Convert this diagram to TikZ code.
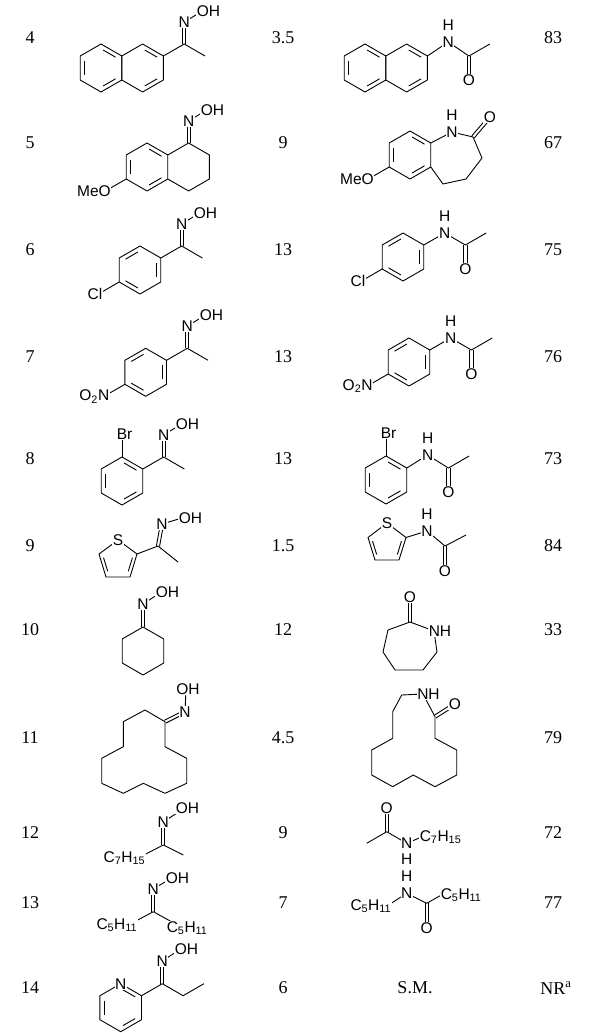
\documentclass[tikz,border=0pt]{standalone}
\usepackage{fontspec}
\setmainfont{Liberation Serif}
\newfontfamily\chem{Liberation Sans}
\usetikzlibrary{calc}
\tikzset{
  bond/.style={line width=0.9pt,line join=round},
  lab/.style={font=\chem\fontsize{15.5}{15.5}\selectfont,fill=white,inner sep=0.6pt},
  num/.style={font=\fontsize{18}{18}\selectfont,inner sep=0pt}
}
\newcommand\hexring[1]{\draw[bond] ($#1+(30:24)$) -- ($#1+(90:24)$) -- ($#1+(150:24)$) -- ($#1+(210:24)$) -- ($#1+(270:24)$) -- ($#1+(330:24)$) -- cycle;}
\newcommand\hdb[3]{\draw[bond,shorten <=2.5pt,shorten >=2.5pt] ($#1+(-#2:19.2)$) -- ($#1+(-#3:19.2)$);}
\newcommand\pdb[3]{\draw[bond,shorten <=2.5pt,shorten >=2.5pt] ($#1!0.2!#3$) -- ($#2!0.2!#3$);}
\newcommand\dbond[2]{\draw[bond] ($#1!1.6pt!90:#2$) -- ($#2!1.6pt!-90:#1$); \draw[bond] ($#1!1.6pt!-90:#2$) -- ($#2!1.6pt!90:#1$);}
\begin{document}
\begin{tikzpicture}[x=1pt,y=-1pt]
\useasboundingbox (0,0) rectangle (600,1033);
% ---------- numbers ----------
\foreach \r/\y/\t/\yy in {4/38/3.5/83, 5/143/9/67, 6/250/13/75, 7/357/13/76, 8/459/13/73, 9/546/1.5/84, 10/630/12/33, 11/738/4.5/79, 12/833/9/72, 13/903/7/77}{
  \node[num] (r\r) at (30,\y) {\r};
  \node[num] (t\r) at (283,\y) {\t};
  \node[num] (y\r) at (553,\y) {\yy};
}
\node[num] (r14) at (30,988) {14};
\node[num] (t14) at (283,988) {6};
\node[num] (sm) at (415,988) {S.M.};
\node[num] (y14) at (556,988) {NR\textsuperscript{a}};
% ---------- row 4 ----------
\hexring{(101,68)} \hexring{(142.6,68)}
\hdb{(101,68)}{150}{210}\hdb{(101,68)}{270}{330}\hdb{(101,68)}{30}{90}
\hdb{(142.6,68)}{30}{90}\hdb{(142.6,68)}{270}{330}
\draw[bond] (163.4,56) -- (184.2,44) -- (205,56);
\dbond{(184.2,44)}{(184.2,22)}
\draw[bond] (184.2,22) -- (201,12);
\node[lab] (a4n) at (184.2,22) {N};
\node[lab,anchor=west] (a4o) at (196,11) {OH};
\hexring{(365,68)} \hexring{(406.6,68)}
\hdb{(365,68)}{150}{210}\hdb{(365,68)}{270}{330}\hdb{(365,68)}{30}{90}
\hdb{(406.6,68)}{30}{90}\hdb{(406.6,68)}{270}{330}
\draw[bond] (427.4,56) -- (448.2,42) -- (469,56) -- (489.8,44);
\dbond{(469,56)}{(469,80)}
\node[lab] (p4n) at (448.2,42) {N};
\node[lab] (p4h) at (448.2,25) {H};
\node[lab] (p4o) at (469,80) {O};
% ---------- row 5 ----------
\hexring{(147,167)}
\hdb{(147,167)}{150}{210}\hdb{(147,167)}{270}{330}\hdb{(147,167)}{30}{90}
\draw[bond] (167.8,155) -- (188.6,143) -- (209.4,155) -- (209.4,179) -- (188.6,191) -- (167.8,179);
\dbond{(188.6,143)}{(188.6,121)}
\draw[bond] (188.6,121) -- (205,111);
\node[lab] (a5n) at (188.6,121) {N};
\node[lab,anchor=west] (a5o) at (200,110) {OH};
\draw[bond] (126.2,179) -- (105.4,191);
\node[lab,anchor=east] (a5m) at (111.5,191) {MeO};
\hexring{(410,155)}
\hdb{(410,155)}{150}{210}\hdb{(410,155)}{270}{330}\hdb{(410,155)}{30}{90}
\draw[bond] (430.8,143) -- (452,132) -- (473,137) -- (482,158) -- (466,179) -- (443,184) -- (430.8,167);
\dbond{(473,137)}{(490,117)}
\node[lab] (p5n) at (452,132) {N};
\node[lab] (p5h) at (452,115) {H};
\node[lab] (p5o) at (490,117) {O};
\draw[bond] (389.2,167) -- (368.4,179);
\node[lab,anchor=east] (p5m) at (374.5,179) {MeO};
% ---------- row 6 ----------
\hexring{(140,270)}
\hdb{(140,270)}{90}{150}\hdb{(140,270)}{210}{270}\hdb{(140,270)}{330}{30}
\draw[bond] (160.8,258) -- (181.6,246) -- (202.4,258);
\dbond{(181.6,246)}{(181.6,224)}
\draw[bond] (181.6,224) -- (198,214);
\node[lab] (a6n) at (181.6,224) {N};
\node[lab,anchor=west] (a6o) at (193,213) {OH};
\draw[bond] (119.2,282) -- (98.4,294);
\node[lab,anchor=east] (a6c) at (103,294) {Cl};
\hexring{(403,257)}
\hdb{(403,257)}{90}{150}\hdb{(403,257)}{210}{270}\hdb{(403,257)}{330}{30}
\draw[bond] (423.8,245) -- (444.6,233) -- (465.4,245) -- (486.2,233);
\dbond{(465.4,245)}{(465.4,269)}
\node[lab] (p6n) at (444.6,233) {N};
\node[lab] (p6h) at (444.6,216) {H};
\node[lab] (p6o) at (465.4,269) {O};
\draw[bond] (382.2,269) -- (361.4,281);
\node[lab,anchor=east] (p6c) at (366,281) {Cl};
% ---------- row 7 ----------
\hexring{(145.7,372.3)}
\hdb{(145.7,372.3)}{90}{150}\hdb{(145.7,372.3)}{210}{270}\hdb{(145.7,372.3)}{330}{30}
\draw[bond] (166.5,360.3) -- (187.3,348.3) -- (208.1,360.3);
\dbond{(187.3,348.3)}{(187.3,326)}
\draw[bond] (187.3,326) -- (204,316);
\node[lab] (a7n) at (187.3,326) {N};
\node[lab,anchor=west] (a7o) at (199,315) {OH};
\draw[bond] (124.9,384.3) -- (104.1,396.3);
\node[lab,anchor=east] (a7x) at (110,396.3) {O\textsubscript{2}N};
\hexring{(409,362)}
\hdb{(409,362)}{90}{150}\hdb{(409,362)}{210}{270}\hdb{(409,362)}{330}{30}
\draw[bond] (429.8,350) -- (450.6,338) -- (471.4,350) -- (492.2,338);
\dbond{(471.4,350)}{(471.4,374)}
\node[lab] (p7n) at (450.6,338) {N};
\node[lab] (p7h) at (450.6,321) {H};
\node[lab] (p7o) at (471.4,374) {O};
\draw[bond] (388.2,374) -- (367.4,386);
\node[lab,anchor=east] (p7x) at (373.3,386) {O\textsubscript{2}N};
% ---------- row 8 ----------
\hexring{(122,481)}
\hdb{(122,481)}{150}{210}\hdb{(122,481)}{270}{330}\hdb{(122,481)}{30}{90}
\draw[bond] (142.8,469) -- (163.6,457) -- (184.4,469);
\dbond{(163.6,457)}{(163.6,435)}
\draw[bond] (163.6,435) -- (180,425);
\node[lab] (a8n) at (163.6,435) {N};
\node[lab,anchor=west] (a8o) at (175,424) {OH};
\draw[bond] (122,457) -- (122,436);
\node[lab,anchor=west] (a8b) at (116,434) {Br};
\hexring{(386,480)}
\hdb{(386,480)}{150}{210}\hdb{(386,480)}{270}{330}\hdb{(386,480)}{30}{90}
\draw[bond] (406.8,468) -- (427.6,455) -- (448.4,468) -- (469.2,456);
\dbond{(448.4,468)}{(448.4,492)}
\node[lab] (p8n) at (427.6,455) {N};
\node[lab] (p8h) at (427.6,438) {H};
\node[lab] (p8o) at (448.4,492) {O};
\draw[bond] (386,456) -- (386,435);
\node[lab,anchor=west] (p8b) at (380,433) {Br};
% ---------- row 9 ----------
\draw[bond] (118,540) -- (137,554) -- (130,577) -- (106,577) -- (99,554) -- cycle;
\pdb{(137,554)}{(130,577)}{(118,560)}
\pdb{(106,577)}{(99,554)}{(118,560)}
\node[lab] (a9s) at (118,540) {S};
\draw[bond] (137,554) -- (158,546) -- (178,562);
\dbond{(158,546)}{(162,524)}
\draw[bond] (162,524) -- (182,518);
\node[lab] (a9n) at (162,524) {N};
\node[lab,anchor=west] (a9o) at (178,518) {OH};
\draw[bond] (387,523) -- (406,537.5) -- (399,560) -- (375,560) -- (368,537.5) -- cycle;
\pdb{(406,537.5)}{(399,560)}{(387,544)}
\pdb{(375,560)}{(368,537.5)}{(387,544)}
\node[lab] (p9s) at (387,523) {S};
\draw[bond] (406,537.5) -- (427,531) -- (445,546) -- (466,535);
\dbond{(445,546)}{(445,571)}
\node[lab] (p9n) at (427,531) {N};
\node[lab] (p9h) at (427,514) {H};
\node[lab] (p9o) at (445,571) {O};
% ---------- row 10 ----------
\hexring{(143,651)}
\dbond{(143,627)}{(143,604)}
\draw[bond] (143,604) -- (160,593);
\node[lab] (a10n) at (143,604) {N};
\node[lab,anchor=west] (a10o) at (155,592) {OH};
\draw[bond] (410,622) -- (434,631) -- (437,652) -- (423,670) -- (395,670) -- (383,652) -- (388,630) -- cycle;
\dbond{(410,622)}{(410,597)}
\node[lab] (p10o) at (410,597) {O};
\node[lab,anchor=west] (p10n) at (428,631) {NH};
% ---------- row 11 ----------
\draw[bond] (165,721.7) -- (145,710) -- (123.3,721.7) -- (123.3,746.7) -- (101.7,758.3) -- (101.7,783.3) -- (123.3,793.3) -- (143.3,783.3) -- (165,793.3) -- (186.7,783.3) -- (186.7,758.3) -- (165,746.7) -- cycle;
\dbond{(165,721.7)}{(185,711.7)}
\draw[bond] (185,711.7) -- (186,690);
\node[lab] (a11n) at (185,711.7) {N};
\node[lab] (a11o) at (188,689) {OH};
\draw[bond] (401.7,695) -- (392.7,711.7) -- (392.7,738.3) -- (371.7,750) -- (371.7,775) -- (392.7,786.7) -- (413.3,775) -- (435,786.7) -- (456.7,775) -- (456.7,750) -- (435,738.3) -- (435,716.7) -- (423,694) -- cycle;
\dbond{(435,716.7)}{(455,704)}
\node[lab,anchor=west] (p11n) at (416.5,694) {NH};
\node[lab] (p11o) at (455,704) {O};
% ---------- row 12 ----------
\dbond{(163.3,845)}{(163.3,822)}
\draw[bond] (140,857) -- (163.3,845) -- (183.3,855);
\draw[bond] (163.3,822) -- (180,811);
\node[lab] (a12n) at (163.3,822) {N};
\node[lab,anchor=west] (a12o) at (175,808) {OH};
\node[lab,anchor=east] (a12c) at (146,858) {C\textsubscript{7}H\textsubscript{15}};
\dbond{(386.7,831.7)}{(386.7,808.3)}
\draw[bond] (366.7,843.3) -- (386.7,831.7) -- (406.7,843.3) -- (424,836);
\node[lab] (p12o) at (386.7,808.3) {O};
\node[lab] (p12n) at (406.7,843.3) {N};
\node[lab] (p12h) at (406.7,859) {H};
\node[lab,anchor=west] (p12c) at (419,837) {C\textsubscript{7}H\textsubscript{15}};
% ---------- row 13 ----------
\dbond{(153.3,911.7)}{(153.3,889)}
\draw[bond] (134,922) -- (153.3,911.7) -- (172,922);
\draw[bond] (153.3,889) -- (170,879);
\node[lab] (a13n) at (153.3,889) {N};
\node[lab,anchor=west] (a13o) at (165,878) {OH};
\node[lab,anchor=east] (a13l) at (138,925) {C\textsubscript{5}H\textsubscript{11}};
\node[lab,anchor=west] (a13r) at (166,928) {C\textsubscript{5}H\textsubscript{11}};
\draw[bond] (390,904) -- (406.7,893.3) -- (426.7,903.3) -- (445,893);
\dbond{(426.7,903.3)}{(426.7,928.3)}
\node[lab] (p13n) at (406.7,893.3) {N};
\node[lab] (p13h) at (406.7,876.5) {H};
\node[lab] (p13o) at (426.7,928.3) {O};
\node[lab,anchor=east] (p13l) at (392,906) {C\textsubscript{5}H\textsubscript{11}};
\node[lab,anchor=west] (p13r) at (440,895) {C\textsubscript{5}H\textsubscript{11}};
% ---------- row 14 ----------
\hexring{(120.7,1007.7)}
\hdb{(120.7,1007.7)}{150}{210}\hdb{(120.7,1007.7)}{270}{330}\hdb{(120.7,1007.7)}{30}{90}
\node[lab] (a14p) at (120.7,983.7) {N};
\draw[bond] (141.5,995.7) -- (162.3,983.7) -- (183.1,995.7) -- (203.9,983.7);
\dbond{(162.3,983.7)}{(162.3,961)}
\draw[bond] (162.3,961) -- (179,950);
\node[lab] (a14n) at (162.3,961) {N};
\node[lab,anchor=west] (a14o) at (174,949) {OH};
\end{tikzpicture}
\end{document}
